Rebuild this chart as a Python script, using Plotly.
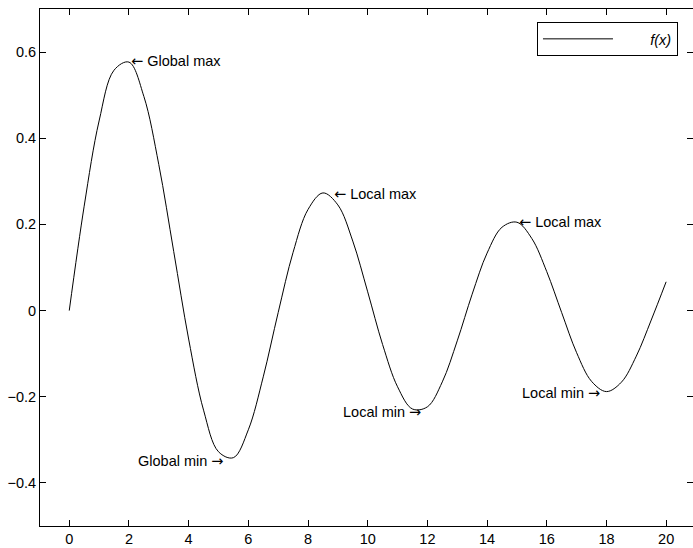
import plotly.graph_objects as go

# Curve values (first-order Bessel-like oscillation)
x_vals = [0, 0.5, 1, 1.5, 2, 2.5, 3, 3.5, 4, 4.5, 5, 5.5, 6, 6.5, 7, 7.5, 8, 8.5, 9, 9.5,
          10, 10.5, 11, 11.5, 12, 12.5, 13, 13.5, 14, 14.5, 15, 15.5, 16, 16.5, 17, 17.5,
          18, 18.5, 19, 19.5, 20]
y_vals = [0.0, 0.2423, 0.4401, 0.5579, 0.5767, 0.4971, 0.3391, 0.1374, -0.0660, -0.2311,
          -0.3276, -0.3414, -0.2767, -0.1538, -0.0047, 0.1352, 0.2346, 0.2731, 0.2453, 0.1613,
          0.0435, -0.0789, -0.1768, -0.2284, -0.2234, -0.1655, -0.0703, 0.0380, 0.1334, 0.1934,
          0.2051, 0.1672, 0.0904, -0.0047, -0.0977, -0.1642, -0.1880, -0.1663, -0.1057, -0.0220,
          0.0668]

# Annotation anchors (text positions in data units)
ann_x = [2.08, 8.88, 15.08, 5.18, 11.77, 17.77]
ann_y = [0.580, 0.271, 0.206, -0.348, -0.2345, -0.192]
ann_label = ["Global max", "Local max", "Local max", "Global min", "Local min", "Local min"]
ann_side = ["left", "left", "left", "right", "right", "right"]

x_ticks = [0, 2, 4, 6, 8, 10, 12, 14, 16, 18, 20]
y_ticks = [-0.4, -0.2, 0, 0.2, 0.4, 0.6]

FONT = "Liberation Sans, Arial, Helvetica, sans-serif"
FS = 14.5
ARROW_STYLE = "font-family:DejaVu Sans;font-weight:normal"

fig = go.Figure()
fig.add_trace(go.Scatter(
    x=x_vals, y=y_vals, mode="lines",
    line=dict(color="black", width=1, shape="spline", smoothing=1.0),
    name="\u00a0" * 8 + "<i>f(x)</i>",
))

for xv, yv, lab, side in zip(ann_x, ann_y, ann_label, ann_side):
    if side == "left":
        txt = '<span style="%s">\u2190</span> %s' % (ARROW_STYLE, lab)
    else:
        txt = '%s <span style="%s">\u2192</span>' % (lab, ARROW_STYLE)
    fig.add_annotation(
        x=xv, y=yv, text=txt, showarrow=False,
        xanchor=side, yanchor="middle",
        xshift=-2 if side == "left" else 2,
        font=dict(family=FONT, size=FS, color="black"),
    )

axis_common = dict(
    showgrid=False, zeroline=False, showline=True, linecolor="black", linewidth=1,
    mirror="ticks", ticks="inside", ticklen=6, tickcolor="black", tickwidth=1,
    tickfont=dict(family=FONT, size=FS, color="black"),
)

fig.update_layout(
    width=693, height=548,
    margin=dict(l=40, r=0, t=9, b=22),
    paper_bgcolor="white", plot_bgcolor="white",
    font=dict(family=FONT, size=FS, color="black"),
    showlegend=True,
    legend=dict(
        x=0.977, y=0.975, xanchor="right", yanchor="top",
        bordercolor="black", borderwidth=1, bgcolor="white",
        itemwidth=70,
        font=dict(family=FONT, size=FS, color="black"),
    ),
    xaxis=dict(range=[-0.98, 20.9], tickvals=x_ticks, **axis_common),
    yaxis=dict(range=[-0.5, 0.7], tickvals=y_ticks, **axis_common),
)

fig.write_html(
    "out.html",
    config={"displayModeBar": False},
    post_script="document.body.style.margin='0';document.body.style.padding='0';",
)
